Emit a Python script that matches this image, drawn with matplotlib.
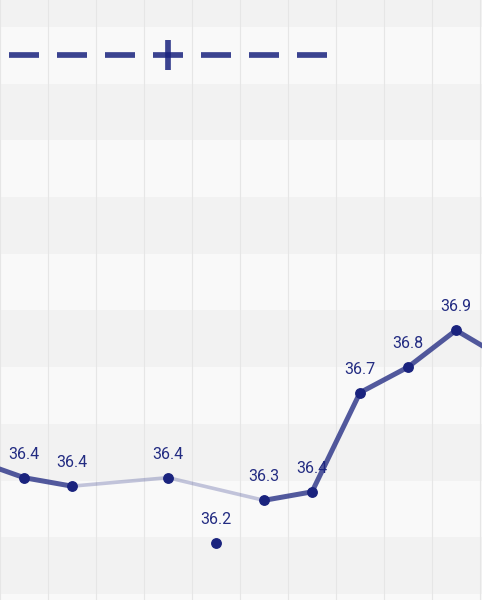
import matplotlib
matplotlib.use("Agg")
import matplotlib.pyplot as plt
import numpy as np

# ---- data ----
days = [-1, 0, 1, 3, 4, 5, 6, 7, 8, 9, 10]
temps = [36.47, 36.41, 36.38, 36.41, 36.18, 36.33, 36.36, 36.71, 36.80, 36.93, 36.83]
excluded_days = [4]
marker_days = [0, 1, 2, 3, 4, 5, 6]
marker_level = 37.9
plus_day = 3

# ---- style ----
NAVY = "#1a237e"
fig = plt.figure(figsize=(4.82, 6.0), dpi=100)
ax = fig.add_axes([0, 0, 1, 1])
ax.set_xlim(-0.5, -0.5 + 482 / 48)
ax.set_ylim(36.4 - 119.5 / 283.5, 36.4 + 480.5 / 283.5)
ax.axis("off")

# bands
ax.axhspan(35.5, 39.0, color="#f9f9f9", zorder=0)
for lo in np.arange(36.0, 38.2, 0.4):
    ax.axhspan(lo, lo + 0.2, color="#f2f2f2", lw=0, zorder=0.5)
ax.axhspan(38.0, 38.4, color="#f2f2f2", lw=0, zorder=0.5)

# vertical grid
for d in range(-1, 12):
    ax.axvline(d + 0.5, color="#e6e6e6", lw=0.8, zorder=1)

# segments
inc = [(d, t) for d, t in zip(days, temps) if d not in excluded_days]
for (d0, t0), (d1, t1) in zip(inc[:-1], inc[1:]):
    if d1 - d0 == 1:
        ax.plot([d0, d1], [t0, t1], color=NAVY, alpha=0.75, lw=3.6,
                solid_capstyle="round", zorder=4)
    else:
        ax.plot([d0, d1], [t0, t1], color=NAVY, alpha=0.25, lw=2.6,
                solid_capstyle="round", zorder=3.5)

# points
ax.plot(days, temps, ls="none", marker="o", ms=6.8, color=NAVY, zorder=5)

# labels
for d, t in zip(days, temps):
    ax.annotate(f"{t:.1f}", (d, t), xytext=(0, 17), textcoords="offset points",
                ha="center", va="center", fontsize=11.5, family="Roboto",
                color="#232c82", zorder=3)

# top dashed markers
ax.plot(marker_days, [marker_level] * len(marker_days), ls="none", marker="_",
        ms=22.3, mew=4.1, color=NAVY, alpha=0.85, zorder=4)
ax.plot([plus_day], [marker_level], ls="none", marker="|",
        ms=22.3, mew=4.1, color=NAVY, alpha=0.85, zorder=4)

fig.savefig("out.png", dpi=100)
